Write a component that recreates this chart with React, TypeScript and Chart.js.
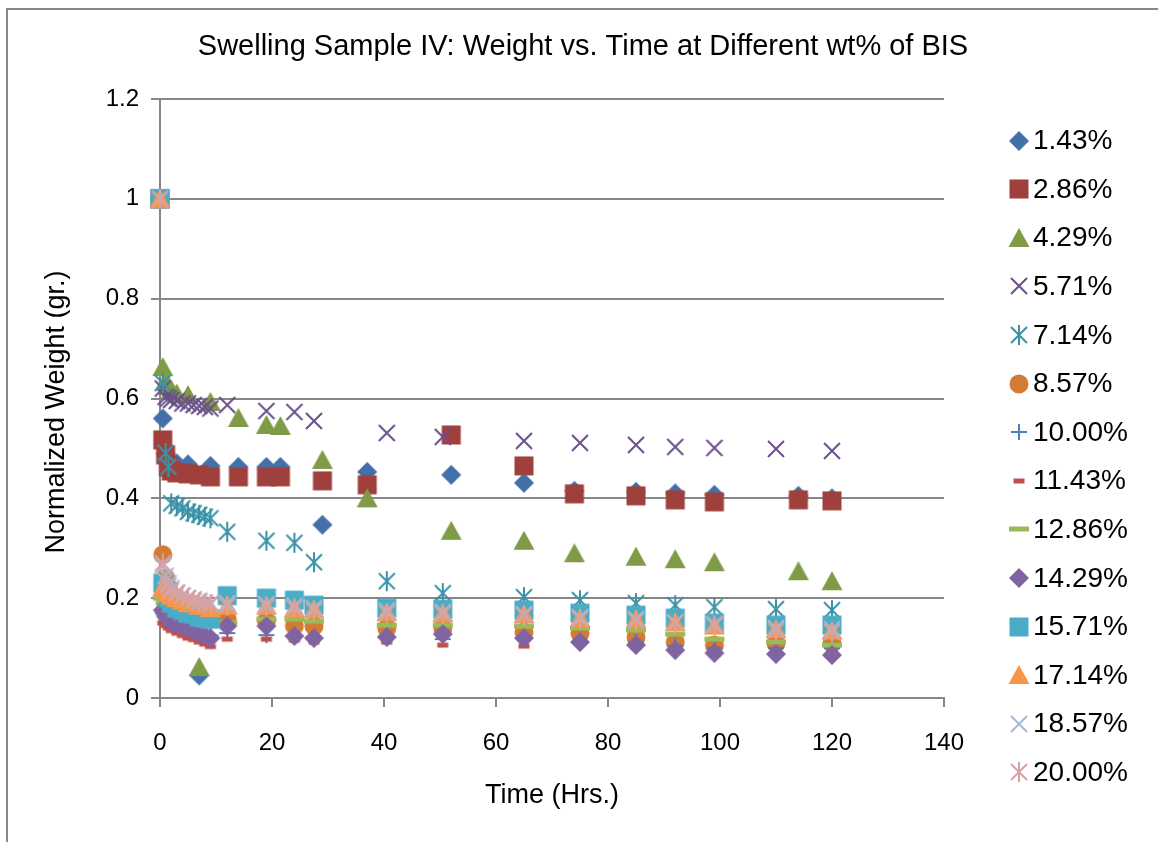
import React, { useEffect, useRef } from 'react';
import { Chart, registerables } from 'chart.js';

Chart.register(...registerables);

// ---- Data ----
const chartTitle = 'Swelling Sample IV: Weight vs. Time at Different wt% of BIS';
const xTitle = 'Time (Hrs.)';
const yTitle = 'Normalized Weight (gr.)';
const seriesLabels = ['1.43%', '2.86%', '4.29%', '5.71%', '7.14%', '8.57%', '10.00%', '11.43%', '12.86%', '14.29%', '15.71%', '17.14%', '18.57%', '20.00%'];

const timesA = [0, 0.5, 1, 1.5, 2, 3, 5, 7, 9, 14, 19, 21.5, 29, 37, 52, 65, 74, 85, 92, 99, 114, 120];
const timesB = [0, 0.5, 1, 1.5, 2, 3, 4, 5, 6, 7, 8, 9, 12, 19, 24, 27.5, 40.5, 50.5, 65, 75, 85, 92, 99, 110, 120];

const w143 = [1.0, 0.56, 0.49, 0.48, 0.475, 0.47, 0.468, 0.045, 0.465, 0.463, 0.463, 0.463, 0.347, 0.453, 0.447, 0.431, 0.415, 0.413, 0.41, 0.407, 0.405, 0.40];
const w286 = [1.0, 0.517, 0.487, 0.463, 0.455, 0.451, 0.449, 0.447, 0.443, 0.443, 0.443, 0.443, 0.435, 0.427, 0.527, 0.465, 0.409, 0.405, 0.397, 0.393, 0.397, 0.395];
const w429 = [1.0, 0.663, 0.635, 0.625, 0.618, 0.61, 0.607, 0.062, 0.593, 0.561, 0.547, 0.545, 0.477, 0.40, 0.335, 0.315, 0.29, 0.283, 0.278, 0.272, 0.254, 0.234];

const w571 = [1.0, 0.62, 0.603, 0.60, 0.597, 0.595, 0.59, 0.59, 0.587, 0.585, 0.583, 0.58, 0.587, 0.575, 0.573, 0.555, 0.531, 0.523, 0.515, 0.511, 0.507, 0.503, 0.501, 0.499, 0.495];
const w714 = [1.0, 0.631, 0.491, 0.463, 0.39, 0.385, 0.38, 0.373, 0.37, 0.367, 0.363, 0.36, 0.333, 0.315, 0.311, 0.272, 0.234, 0.21, 0.202, 0.196, 0.19, 0.186, 0.182, 0.178, 0.176];
const w857 = [1.0, 0.287, 0.24, 0.22, 0.205, 0.19, 0.18, 0.175, 0.17, 0.165, 0.162, 0.16, 0.158, 0.155, 0.145, 0.144, 0.14, 0.14, 0.132, 0.13, 0.122, 0.112, 0.106, 0.11, 0.11];
const w1000 = [1.0, 0.17, 0.16, 0.152, 0.147, 0.142, 0.14, 0.136, 0.133, 0.13, 0.128, 0.125, 0.13, 0.126, 0.125, 0.12, 0.125, 0.118, 0.12, 0.115, 0.112, 0.105, 0.1, 0.1, 0.1];
const w1143 = [1.0, 0.15, 0.145, 0.14, 0.135, 0.13, 0.125, 0.12, 0.117, 0.112, 0.108, 0.103, 0.118, 0.118, 0.116, 0.112, 0.112, 0.106, 0.104, 0.11, 0.108, 0.1, 0.098, 0.095, 0.095];
const w1286 = [1.0, 0.2, 0.19, 0.185, 0.18, 0.175, 0.17, 0.165, 0.162, 0.158, 0.155, 0.152, 0.15, 0.158, 0.158, 0.154, 0.146, 0.146, 0.144, 0.14, 0.136, 0.128, 0.118, 0.112, 0.106];
const w1429 = [1.0, 0.176, 0.165, 0.158, 0.152, 0.148, 0.145, 0.14, 0.135, 0.13, 0.125, 0.12, 0.144, 0.144, 0.124, 0.12, 0.122, 0.128, 0.12, 0.112, 0.106, 0.096, 0.09, 0.088, 0.086];
const w1571 = [1.0, 0.23, 0.215, 0.2, 0.19, 0.18, 0.175, 0.17, 0.168, 0.162, 0.16, 0.158, 0.205, 0.2, 0.196, 0.186, 0.18, 0.178, 0.176, 0.17, 0.166, 0.16, 0.15, 0.146, 0.146];
const w1714 = [1.0, 0.222, 0.215, 0.21, 0.205, 0.2, 0.195, 0.19, 0.19, 0.185, 0.185, 0.18, 0.185, 0.185, 0.18, 0.178, 0.172, 0.17, 0.168, 0.16, 0.158, 0.152, 0.145, 0.138, 0.135];
const w1857 = [1.0, 0.265, 0.245, 0.23, 0.22, 0.212, 0.205, 0.2, 0.198, 0.195, 0.19, 0.19, 0.19, 0.188, 0.185, 0.18, 0.175, 0.172, 0.168, 0.162, 0.158, 0.152, 0.148, 0.14, 0.138];
const w2000 = [1.0, 0.27, 0.235, 0.225, 0.215, 0.21, 0.205, 0.2, 0.195, 0.192, 0.19, 0.188, 0.185, 0.183, 0.18, 0.175, 0.17, 0.168, 0.165, 0.158, 0.155, 0.15, 0.145, 0.135, 0.132];

const seriesTimes = [timesA, timesA, timesA, timesB, timesB, timesB, timesB, timesB, timesB, timesB, timesB, timesB, timesB, timesB];
const seriesValues = [w143, w286, w429, w571, w714, w857, w1000, w1143, w1286, w1429, w1571, w1714, w1857, w2000];

const xTickValues = [0, 20, 40, 60, 80, 100, 120, 140];
const yTickValues = [0, 0.2, 0.4, 0.6, 0.8, 1, 1.2];

// ---- Styles ----
const seriesColors = ['#4470A9', '#A0403D', '#7F9B46', '#6A4F8C', '#3A92A8', '#D17B33', '#4F81BD', '#C0504D', '#9BBB59', '#8064A2', '#4BACC6', '#F79646', '#A7B9DB', '#D9A2A2'];
const seriesShapes = ['diamond', 'square', 'triangle', 'x', 'star', 'circle', 'plus', 'dashS', 'dashL', 'diamond', 'square', 'triangle', 'x', 'star'];

const FONT = "'Liberation Sans', Arial, sans-serif";
const GRID = '#878787';

function makeMarker(kind: string, color: string): HTMLCanvasElement {
  const s = 24;
  const c = document.createElement('canvas');
  c.width = s;
  c.height = s;
  const g = c.getContext('2d')!;
  const m = s / 2;
  g.fillStyle = color;
  g.strokeStyle = color;
  g.lineWidth = 2;
  g.beginPath();
  switch (kind) {
    case 'diamond':
      g.moveTo(m, m - 10); g.lineTo(m + 10, m); g.lineTo(m, m + 10); g.lineTo(m - 10, m); g.closePath(); g.fill();
      break;
    case 'square':
      g.fillRect(m - 9.5, m - 9.5, 19, 19);
      break;
    case 'triangle':
      g.moveTo(m, m - 10); g.lineTo(m + 10.5, m + 9); g.lineTo(m - 10.5, m + 9); g.closePath(); g.fill();
      break;
    case 'x':
      g.moveTo(m - 8, m - 8); g.lineTo(m + 8, m + 8); g.moveTo(m + 8, m - 8); g.lineTo(m - 8, m + 8); g.stroke();
      break;
    case 'star':
      g.moveTo(m - 8, m - 8); g.lineTo(m + 8, m + 8); g.moveTo(m + 8, m - 8); g.lineTo(m - 8, m + 8);
      g.moveTo(m, m - 10); g.lineTo(m, m + 10); g.stroke();
      break;
    case 'circle':
      g.arc(m, m, 9.5, 0, Math.PI * 2); g.fill();
      break;
    case 'plus':
      g.moveTo(m - 8, m); g.lineTo(m + 8, m); g.moveTo(m, m - 8); g.lineTo(m, m + 8); g.stroke();
      break;
    case 'dashS':
      g.fillRect(m - 5.5, m - 2.5, 11, 5);
      break;
    case 'dashL':
      g.fillRect(m - 10, m - 2.5, 20, 5);
      break;
  }
  return c;
}

export default function App() {
  const ref = useRef<HTMLCanvasElement>(null);

  useEffect(() => {
    document.body.style.margin = '0';
    const canvas = ref.current!;
    const markers = seriesShapes.map((k, i) => makeMarker(k, seriesColors[i]));

    const datasets = seriesLabels.map((label, i) => ({
      label,
      data: seriesTimes[i].map((t, j) => ({ x: t, y: seriesValues[i][j] })),
      pointStyle: markers[i] as any,
      pointRadius: 10,
      pointHoverRadius: 10,
      backgroundColor: seriesColors[i],
      borderColor: seriesColors[i],
      showLine: false,
      clip: false as any,
      order: seriesLabels.length - 1 - i,
    }));

    const decorPlugin = {
      id: 'decor',
      afterDraw(chart: any) {
        const ctx = chart.ctx;
        const area = chart.chartArea;
        ctx.save();
        // outer frame
        ctx.strokeStyle = GRID;
        ctx.lineWidth = 2;
        ctx.strokeRect(7, 9, 1400, 1000);
        // chart title
        ctx.fillStyle = '#000';
        ctx.font = `29px ${FONT}`;
        ctx.textAlign = 'center';
        ctx.textBaseline = 'middle';
        ctx.fillText(chartTitle, 583, 47);
        // y axis title
        ctx.save();
        ctx.translate(57, 412);
        ctx.rotate(-Math.PI / 2);
        ctx.font = `27px ${FONT}`;
        ctx.fillText(yTitle, 0, 0);
        ctx.restore();
        // x axis title
        ctx.font = `27px ${FONT}`;
        ctx.fillText(xTitle, (area.left + area.right) / 2, 796);
        // legend
        ctx.font = `28px ${FONT}`;
        ctx.textAlign = 'left';
        seriesLabels.forEach((label, i) => {
          const y = 140.5 + i * 48.6;
          const img = markers[i];
          ctx.drawImage(img, 1019 - img.width / 2, Math.round(y) - img.height / 2);
          ctx.fillText(label, 1033, y + 1);
        });
        ctx.restore();
      },
    };

    const chart = new Chart(canvas, {
      type: 'scatter',
      data: { datasets: datasets as any },
      options: {
        animation: false,
        responsive: false,
        events: [],
        layout: { padding: { left: 0, right: 214, top: 99, bottom: 0 } },
        plugins: {
          legend: { display: false },
          tooltip: { enabled: false },
          title: { display: false },
        },
        scales: {
          x: {
            type: 'linear',
            min: 0,
            max: 140,
            afterFit: (s: any) => { s.height = 144; },
            afterBuildTicks: (s: any) => { s.ticks = xTickValues.map((v) => ({ value: v })); },
            ticks: { color: '#000', font: { family: FONT, size: 24 }, padding: 22, maxRotation: 0 },
            grid: { display: true, drawOnChartArea: false, drawTicks: true, tickLength: 9, color: GRID, lineWidth: 2 },
            border: { display: true, color: GRID, width: 2 },
            title: { display: false },
          },
          y: {
            type: 'linear',
            min: 0,
            max: 1.2,
            afterFit: (s: any) => { s.width = 160; },
            afterBuildTicks: (s: any) => { s.ticks = yTickValues.map((v) => ({ value: v })); },
            ticks: {
              color: '#000',
              font: { family: FONT, size: 24 },
              padding: 12,
              callback: (v: any) => String(Number(Number(v).toFixed(1))),
            },
            grid: { display: true, drawTicks: true, tickLength: 9, color: GRID, lineWidth: 2 },
            border: { display: true, color: GRID, width: 2 },
            title: { display: false },
          },
        },
      },
      plugins: [decorPlugin],
    });

    return () => chart.destroy();
  }, []);

  return <canvas ref={ref} width={1158} height={842} style={{ display: 'block', width: 1158, height: 842 }} />;
}
